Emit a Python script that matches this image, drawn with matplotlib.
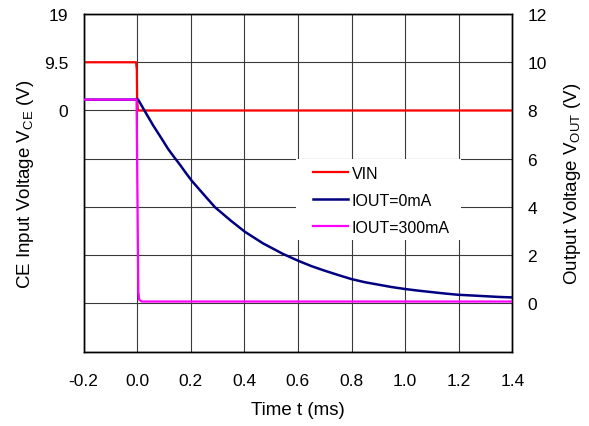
import matplotlib
matplotlib.use("Agg")
import matplotlib.pyplot as plt
from matplotlib.patches import Rectangle

plt.rcParams['font.family'] = ['Liberation Sans', 'DejaVu Sans']

# VIN (left axis, CE input voltage)
t_vin = [-0.2, -0.004, -0.001, 0.0, 0.003, 1.4]
v_vin = [9.5, 9.5, 8.0, 2.0, 0.0, 0.0]

# IOUT = 0mA (right axis)
t_0ma = [-0.2, 0.0, 0.004, 0.03, 0.06, 0.09, 0.116, 0.14, 0.16, 0.18, 0.2036, 0.25,
         0.2905, 0.35, 0.4024, 0.47, 0.545, 0.601, 0.65, 0.694, 0.75, 0.800, 0.85,
         0.90, 0.95, 0.999, 1.05, 1.10, 1.15, 1.198, 1.25, 1.30, 1.35, 1.40]
v_0ma = [8.45, 8.45, 8.45, 7.95, 7.38, 6.86, 6.40, 6.04, 5.75, 5.44, 5.09, 4.50,
         3.99, 3.43, 2.97, 2.49, 2.05, 1.77, 1.55, 1.38, 1.18, 1.01, 0.88,
         0.78, 0.68, 0.60, 0.53, 0.47, 0.41, 0.36, 0.33, 0.30, 0.27, 0.25]

# IOUT = 300mA (right axis)
t_300ma = [-0.2, -0.002, 0.0045, 0.008, 0.017, 1.4]
v_300ma = [8.45, 8.45, 0.5, 0.15, 0.08, 0.08]

xticks = [-0.2, 0.0, 0.2, 0.4, 0.6, 0.8, 1.0, 1.2, 1.4]
left_ticks = [19, 9.5, 0, -9.5, -19, -28.5, -38, -47.5]
left_labels = ['19', '9.5', '0', '', '', '', '', '']
right_ticks = [-2, 0, 2, 4, 6, 8, 10, 12]
right_labels = ['', '0', '2', '4', '6', '8', '10', '12']

FS = 12.5
LFS = 13.5
fig = plt.figure(figsize=(5.89, 4.27), dpi=100)
ax = fig.add_axes([83.5/589, 1-352.7/427, (512.3-83.5)/589, (352.7-15)/427])
ax2 = ax.twinx()

ax.set_xlim(-0.2, 1.4)
ax.set_ylim(-47.5, 19)
ax2.set_ylim(-2, 12)
ax.set_xticks(xticks)
ax.set_xticklabels([f"{x:.1f}" for x in xticks], fontsize=FS)
ax.set_yticks(left_ticks)
ax.set_yticklabels(left_labels, fontsize=FS)
ax2.set_yticks(right_ticks)
ax2.set_yticklabels(right_labels, fontsize=FS)

ax.grid(True, color='#3a3a3a', linewidth=0.8)
ax.set_axisbelow(True)
ax.tick_params(axis='both', length=0, pad=11)
ax.tick_params(axis='x', pad=15)
ax2.tick_params(axis='y', length=0, pad=11)

for a in (ax, ax2):
    for s in a.spines.values():
        s.set_color('black')
        s.set_linewidth(1.0)

l1, = ax.plot(t_vin, v_vin, color='#FF0000', lw=1.6, label='VIN', zorder=3)
l2, = ax2.plot(t_0ma, v_0ma, color='#000080', lw=1.8, label='IOUT=0mA', zorder=3)
l3, = ax2.plot(t_300ma, v_300ma, color='#FF00FF', lw=1.6, label='IOUT=300mA', zorder=4)

# white legend background (covers gridlines)
x0, x1 = -0.2 + (296-83.5)/428.8*1.6, -0.2 + (461-83.5)/428.8*1.6
ax.add_patch(Rectangle((x0, -47.5 + (352.7-241)/337.7*66.5), x1-x0, (241-160)/337.7*66.5,
                       facecolor='white', edgecolor='none', zorder=2))

ax2.legend(handles=[l1, l2, l3], loc='upper left',
           bbox_to_anchor=((308-83.5)/428.8, (352.7-162)/337.7),
           frameon=False, fontsize=11.5, handlelength=2.2, handletextpad=0.25,
           labelspacing=0.75, borderpad=0.3, borderaxespad=0)

ax.set_xlabel('Time t (ms)', fontsize=LFS, labelpad=10)
ax.set_ylabel(r'CE Input Voltage V$_{\mathregular{CE}}$ (V)', fontsize=LFS, labelpad=6)
ax2.set_ylabel(r'Output Voltage V$_{\mathregular{OUT}}$ (V)', fontsize=LFS, labelpad=11)

fig.savefig('out.png', dpi=100)
